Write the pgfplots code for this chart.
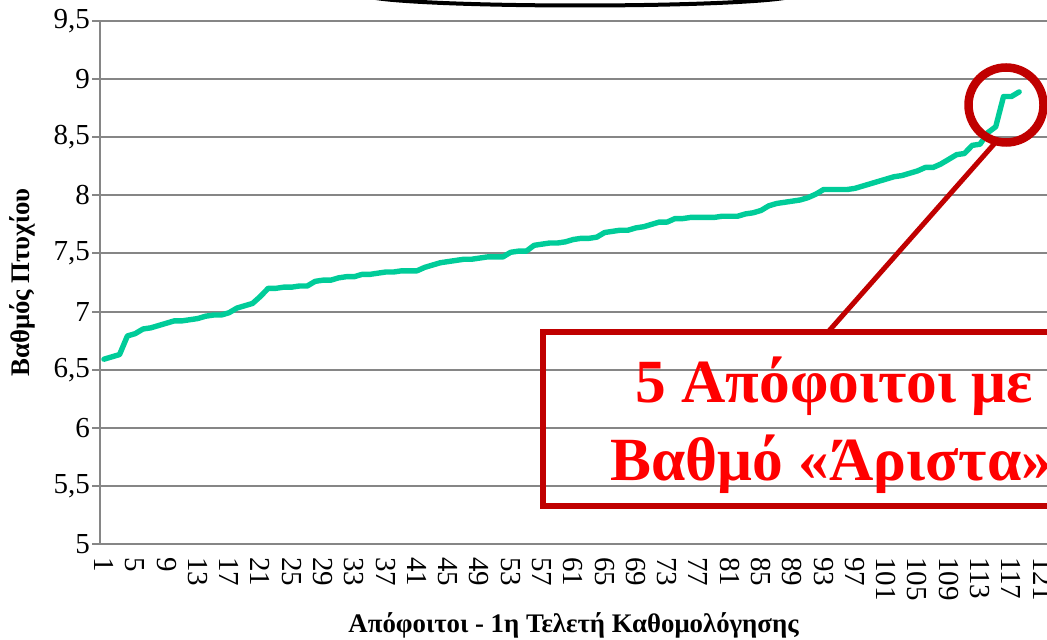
\documentclass[border=0pt]{standalone}
\usepackage{pgfplots}
\pgfplotsset{compat=1.18}
\usepackage{pgfplotstable}
\usepackage{fontspec}
\setmainfont{Liberation Serif}

\definecolor{gridgray}{RGB}{134,134,134}
\definecolor{linegreen}{RGB}{0,204,153}
\definecolor{darkred}{RGB}{192,0,0}
\definecolor{textred}{RGB}{255,0,0}

% grade of each graduate, sorted
\pgfplotstableread{
n grade
1 6.59
2 6.61
3 6.63
4 6.79
5 6.81
6 6.85
7 6.86
8 6.88
9 6.90
10 6.92
11 6.92
12 6.93
13 6.94
14 6.96
15 6.97
16 6.97
17 6.99
18 7.03
19 7.05
20 7.07
21 7.13
22 7.20
23 7.20
24 7.21
25 7.21
26 7.22
27 7.22
28 7.26
29 7.27
30 7.27
31 7.29
32 7.30
33 7.30
34 7.32
35 7.32
36 7.33
37 7.34
38 7.34
39 7.35
40 7.35
41 7.35
42 7.38
43 7.40
44 7.42
45 7.43
46 7.44
47 7.45
48 7.45
49 7.46
50 7.47
51 7.47
52 7.47
53 7.51
54 7.52
55 7.52
56 7.57
57 7.58
58 7.59
59 7.59
60 7.60
61 7.62
62 7.63
63 7.63
64 7.64
65 7.68
66 7.69
67 7.70
68 7.70
69 7.72
70 7.73
71 7.75
72 7.77
73 7.77
74 7.80
75 7.80
76 7.81
77 7.81
78 7.81
79 7.81
80 7.82
81 7.82
82 7.82
83 7.84
84 7.85
85 7.87
86 7.91
87 7.93
88 7.94
89 7.95
90 7.96
91 7.98
92 8.01
93 8.05
94 8.05
95 8.05
96 8.05
97 8.06
98 8.08
99 8.10
100 8.12
101 8.14
102 8.16
103 8.17
104 8.19
105 8.21
106 8.24
107 8.24
108 8.27
109 8.31
110 8.35
111 8.36
112 8.43
113 8.44
114 8.54
115 8.59
116 8.85
117 8.85
118 8.89
}\grades

\begin{document}
\begin{tikzpicture}
\begin{axis}[
    at={(50pt,-272pt)}, anchor=south west,
    width=473.5pt, height=261.5pt, scale only axis,
    xmin=0.5, xmax=121.56, ymin=5, ymax=9.5,
    axis x line*=bottom, axis y line*=left,
    axis line style={-, gridgray, line width=1pt},
    xtick={1,5,...,121},
    ytick={5,5.5,6,6.5,7,7.5,8,8.5,9,9.5},
    ymajorgrids,
    major grid style={gridgray, line width=1pt},
    tick align=outside,
    major tick length=4pt,
    xtick style={draw=none},
    ytick style={gridgray, line width=1pt},
    ticklabel style={font=\fontsize{14.5}{16}\selectfont},
    x tick label style={rotate=-90, anchor=west, xshift=-1pt},
    y tick label style={xshift=2.5pt},
    xlabel={Απόφοιτοι - 1η Τελετή Καθομολόγησης},
    ylabel={Βαθμός Πτυχίου},
    xlabel style={font=\fontsize{13.4}{15}\selectfont\bfseries,
        at={(axis description cs:0.5,0)}, anchor=base, yshift=-44pt},
    ylabel style={font=\fontsize{13.4}{15}\selectfont\bfseries,
        at={(axis description cs:-0.0824,0.5)}, anchor=center},
    /pgf/number format/use comma,
    /pgf/number format/1000 sep={},
    /pgf/number format/assume math mode=true,
]
\addplot[color=linegreen, line width=2.7pt, line join=round, line cap=round]
    table[x=n, y=grade] {\grades};
\end{axis}

% callouts, in pixel units of the 1047x640 picture
\begin{scope}[x=0.5pt, y=-0.5pt]
\draw[line width=2pt] (580,-5.4) ellipse [x radius=215, y radius=10.9];
\draw[darkred, line width=4.25pt] (1006,105) circle [radius=37.5];
\draw[darkred, line width=2.5pt] (995,143) -- (828,332);
\draw[darkred, line width=3pt] (543,332) rectangle (1120,506);
\node[textred, font=\fontsize{30.7}{36}\selectfont\bfseries, anchor=base west, inner sep=0]
    at (635,402) {5 Απόφοιτοι με};
\node[textred, font=\fontsize{30.7}{36}\selectfont\bfseries, anchor=base west, inner sep=0]
    at (610,480) {Βαθμό «Άριστα»};
\pgfresetboundingbox
\path[use as bounding box] (0,0) rectangle (1047,640);
\end{scope}
\end{tikzpicture}
\end{document}
